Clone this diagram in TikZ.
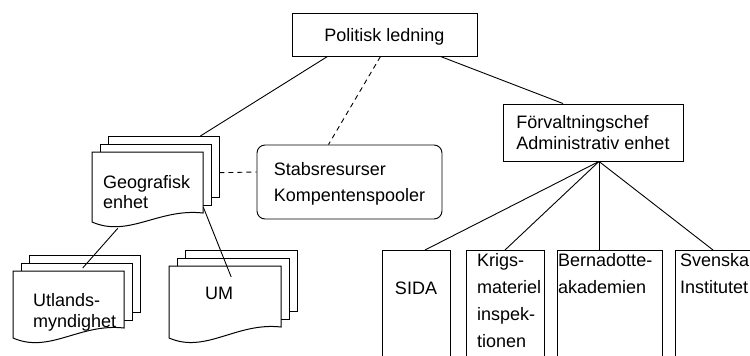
\documentclass[tikz,border=0pt]{standalone}
\usepackage{fontspec}
\setmainfont{Liberation Sans}
\usetikzlibrary{positioning}

% stack of three sheets, front one with a wavy lower edge
% #1 name, #2 left, #3 top, #4 width, #5 bottom left, #6 bottom right
\newcommand{\docstack}[6]{%
  \foreach \k in {2,1}
    \draw[sheet] ({#2+8*\k},{#3-8*\k}) rectangle ({#2+#4+8*\k},{#6-8*\k});
  \draw[sheet] (#2,#3) -- ({#2+#4},#3) -- ({#2+#4},#6)
    .. controls ({#2+0.6*#4},{#6-5}) and ({#2+0.33*#4},{#5+16}) .. (#2,#5) -- cycle;
  \node[inner sep=0pt, minimum width=#4, minimum height={#6-#3}, anchor=north west] (#1) at (#2,#3) {};
}

\begin{document}
\begin{tikzpicture}[x=1pt, y=-1pt]
    % Styles
    \tikzset{
      sheet/.style={draw, fill=white, line width=1pt},
      box/.style={draw, line width=0.9pt, align=left, font=\fontsize{18}{20}\selectfont},
      unitbox/.style={draw, line width=0.9pt, anchor=north, minimum height=130},
      txt/.style={inner sep=0pt, align=left},
      conn/.style={line width=0.9pt},
      dashline/.style={line width=0.9pt, dash pattern=on 5pt off 4pt}
    }
    \useasboundingbox (0,0) rectangle (750,356);
    \clip (0,0) rectangle (750,356);

    % --- Top and administrative boxes ---
    \node[box, minimum width=185, minimum height=43, text depth=-3pt] (pol) at (384.5,34.5) {Politisk ledning};
    \node[box, minimum width=180, minimum height=57, font=\fontsize{18}{21}\selectfont] (forv) at (593,132.5) {Förvaltningschef\\Administrativ enhet};
    \node[box, rounded corners=8pt, minimum width=185, minimum height=74, font=\fontsize{18}{26}\selectfont, text depth=-7pt] (stab) at (349.5,182) {Stabsresurser\\Kompentenspooler};

    % --- Document stacks ---
    \docstack{geo}{92}{152}{111}{222}{213}
    \docstack{utl}{13}{271}{111}{338}{328}
    \docstack{um}{169}{266}{112}{338}{327}
    \node[txt, anchor=north west, font=\fontsize{18}{20}\selectfont] (geo text) at (103,175.5) {Geografisk\\enhet};
    \node[txt, anchor=north west, font=\fontsize{18}{21}\selectfont] (utl text) at (33,293.5) {Utlands-\\myndighet};
    \node[txt, anchor=north west, font=\fontsize{18}{20}\selectfont] (um text) at (205,286.5) {UM};

    % --- Units below the administrative box ---
    \node[unitbox, minimum width=68] (sida) at (416,250) {};
    \node[unitbox, minimum width=78] (krig) at (505,250) {};
    \node[unitbox, minimum width=105] (bern) at (609.5,250) {};
    \node[unitbox, minimum width=76] (sv) at (713,250) {};
    \node[txt, anchor=north, font=\fontsize{18}{27}\selectfont] (sida text) at (416,281.5) {SIDA};
    \node[txt, anchor=north west, font=\fontsize{18}{27}\selectfont] (krig text) at (477,253.5) {Krigs-\\materiel\\inspek-\\tionen};
    \node[txt, anchor=north west, font=\fontsize{18}{27}\selectfont] (bern text) at (558,253.5) {Bernadotte-\\akademien};
    \node[txt, anchor=north west, font=\fontsize{18}{27}\selectfont] (sv text) at (680,253.5) {Svenska\\Institutet};

    % --- Connectors ---
    \draw[conn] ([xshift=36pt]pol.south west) -- ([xshift=-3pt,yshift=16pt]geo.north east);
    \draw[dashline] ([xshift=-4pt]pol.south) -- ([xshift=-21pt]stab.north);
    \draw[conn] ([xshift=-37pt]pol.south east) -- ([xshift=-30pt]forv.north);
    \draw[dashline] ([xshift=16pt,yshift=10pt]geo.east) -- ([yshift=10pt]stab.west);
    \draw[conn] ([xshift=-30pt,yshift=-15pt]geo.south) -- ([xshift=14pt,yshift=3pt]utl.north);
    \draw[conn] ([yshift=6pt]geo.south east) -- ([xshift=6pt,yshift=-11pt]um.north);

    % fan out from the administrative box
    \coordinate (fork) at ([xshift=6pt]forv.south);
    \draw[conn] (fork) -- ([xshift=9pt]sida.north);
    \draw[conn] (fork) -- (krig.north);
    \draw[conn] (fork) -- (fork |- bern.north);
    \draw[conn] (fork) -- (sv.north);

\end{tikzpicture}
\end{document}
